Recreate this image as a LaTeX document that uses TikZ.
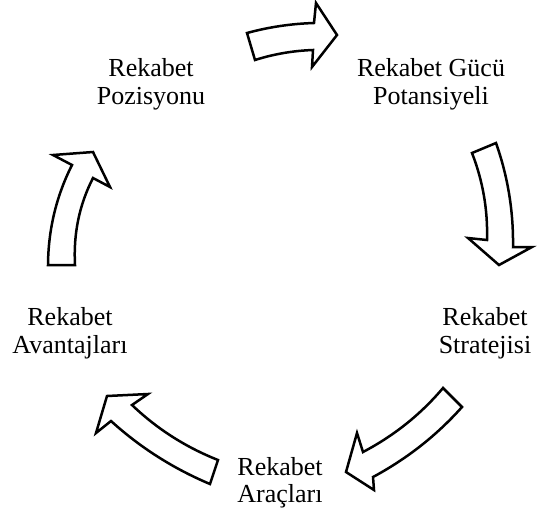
\documentclass[tikz,border=0pt]{standalone}
\usepackage{fontspec}
\setmainfont{Liberation Serif}
\begin{document}
\begin{tikzpicture}[x=1pt,y=-1pt,
  lbl/.style={align=center,inner sep=0pt,font=\fontsize{26}{27.5}\selectfont},
  blockarrow/.style={draw=black,fill=white,line width=2.5pt,line join=miter}]
\useasboundingbox (0,0) rectangle (540,515);
% labels
\node[lbl] (poz) at (151,84.5) {Rekabet\\Pozisyonu};
\node[lbl] (guc) at (431,84.5) {Rekabet Gücü\\Potansiyeli};
\node[lbl] (str) at (485,333) {Rekabet\\Stratejisi};
\node[lbl] (arc) at (280,482.5) {Rekabet\\Araçları};
\node[lbl] (ava) at (70,333) {Rekabet\\Avantajları};
% arrow 1: top, pointing right
\draw[blockarrow] (247,33) .. controls (268.9,27) and (291.3,23.7) .. (314,23)
  -- (316,3) -- (337,35) -- (312,67) -- (313,50)
  .. controls (293.3,50.7) and (273.9,54) .. (255,60) -- cycle;
% arrow 2: right, pointing down
\draw[blockarrow] (472,153) -- (496,143) .. controls (507.9,176.7) and (513.5,211.3) .. (513,247)
  -- (532,247) -- (499,265) -- (468,238) -- (487,240)
  .. controls (487.9,210) and (482.9,181) .. (472,153) -- cycle;
% arrow 3: bottom right, pointing down-left
\draw[blockarrow] (443,388) -- (462,407) .. controls (436.7,435.4) and (407,458.7) .. (373,477)
  -- (374,490) -- (346,472) -- (357,433) -- (363,452)
  .. controls (394,435.7) and (420.7,414.4) .. (443,388) -- cycle;
% arrow 4: bottom left, pointing up-left
\draw[blockarrow] (218,460) -- (210,484) .. controls (173.2,468.5) and (140.2,447.5) .. (111,421)
  -- (96,433) -- (107,396) -- (148,394) -- (132,405)
  .. controls (156.9,428.8) and (185.5,447.1) .. (218,460) -- cycle;
% arrow 5: left, pointing up
\draw[blockarrow] (48,265) .. controls (48.3,229.4) and (56.3,196.1) .. (72,165)
  -- (53,155) -- (93,152) -- (110,187) -- (93,178)
  .. controls (79.3,204.7) and (73.3,233.7) .. (75,265) -- cycle;
\end{tikzpicture}
\end{document}
